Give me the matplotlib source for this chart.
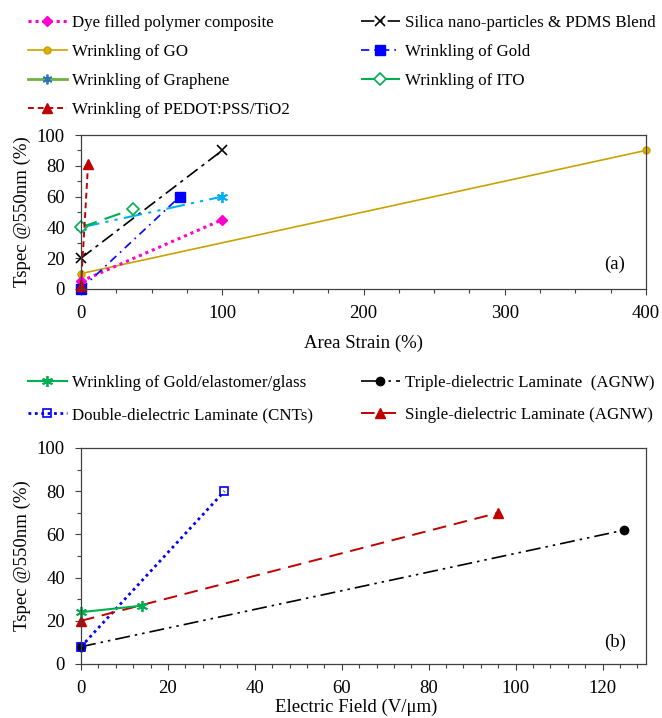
import matplotlib
matplotlib.use("Agg")
import matplotlib.pyplot as plt
from matplotlib.lines import Line2D
from matplotlib.ticker import MultipleLocator

plt.rcParams['font.family'] = ['Liberation Serif', 'DejaVu Serif']

# ---- data, panel (a): Tspec vs area strain ----
dye_x, dye_y = [0, 100], [5, 45]
silica_x, silica_y = [0, 100], [20, 90]
go_x, go_y = [0, 400], [10, 90]
gold_x, gold_y = [0, 70], [0, 60]
graphene_x, graphene_y = [0, 100], [40, 60]
ito_x, ito_y = [0, 37], [40, 52]
pedot_x, pedot_y = [0, 5], [2, 81]

# ---- data, panel (b): Tspec vs electric field ----
gold_el_x, gold_el_y = [0, 14], [24, 27]
triple_x, triple_y = [0, 125], [8, 62]
double_x, double_y = [0, 33], [8, 80]
single_x, single_y = [0, 96], [20, 70]

W, H = 662, 718
fig = plt.figure(figsize=(W / 100, H / 100), dpi=100)

ax1 = fig.add_axes([81 / W, 1 - 289 / H, 565 / W, 154 / H])
ax2 = fig.add_axes([81 / W, 1 - 664 / H, 565 / W, 216 / H])

PINK = '#FF00CC'
GOLDC = '#C9A100'
BLUE = '#0000FF'
CYAN = '#00B0F0'
GREEN = '#00B050'
RED = '#C00000'
ast = (6, 2, 0)

# panel (a)
ax1.plot(go_x, go_y, color=GOLDC, lw=1.2, marker='o', ms=5,
         mfc='#E0B000', mec=GOLDC, label='Wrinkling of GO')
ax1.plot(dye_x, dye_y, color=PINK, lw=2.2, ls=(0, (1, 1.3)), marker='D', ms=5,
         mfc=PINK, mec=PINK, label='Dye filled polymer composite')
ax1.plot(gold_x, gold_y, color=BLUE, lw=1.2, ls=(0, (5, 3, 1, 3)), marker='s', ms=7,
         mfc=BLUE, mec=BLUE, label='Wrinkling of Gold')
ax1.plot(silica_x, silica_y, color='black', lw=1.2, ls=(0, (8, 3, 2, 3)), marker='x', ms=7,
         mew=1.2, label='Silica nano-particles & PDMS Blend')
ax1.plot(graphene_x, graphene_y, color=CYAN, lw=1.5, ls=(0, (9, 3, 1.5, 3, 1.5, 3)),
         marker=ast, ms=8, mew=1.3, mec=CYAN)
ax1.plot(ito_x, ito_y, color=GREEN, lw=1.5, ls=(0, (8, 4)), marker='D', ms=6,
         mfc='white', mec=GREEN, mew=1.2, label='Wrinkling of ITO')
ax1.plot(pedot_x, pedot_y, color=RED, lw=1.4, ls=(0, (3, 2)), marker='^', ms=7,
         mfc=RED, mec=RED, label='Wrinkling of PEDOT:PSS/TiO2')

ax1.set_xlim(0, 400)
ax1.set_ylim(0, 100)
ax1.xaxis.set_major_locator(MultipleLocator(100))
ax1.xaxis.set_minor_locator(MultipleLocator(25))
ax1.set_xlabel('Area Strain (%)', fontsize=13.5)
ax1.xaxis.set_label_coords(0.5, -0.295)
ax1.text(0.945, 0.16, '(a)', transform=ax1.transAxes, fontsize=13.5, ha='center', va='center')

# panel (b)
ax2.plot(triple_x, triple_y, color='black', lw=1.2, ls=(0, (9, 3, 1.5, 3, 1.5, 3)),
         marker='o', ms=6, label='Triple-dielectric Laminate  (AGNW)')
ax2.plot(double_x, double_y, color=BLUE, lw=2, ls=(0, (1, 1.3)), marker='s', ms=6,
         mfc='none', mec=BLUE, mew=1.2, label='Double-dielectric Laminate (CNTs)')
ax2.plot(single_x, single_y, color=RED, lw=1.4, ls=(0, (7, 4)), marker='^', ms=7,
         mfc=RED, mec=RED, label='Single-dielectric Laminate (AGNW)')
ax2.plot(gold_el_x, gold_el_y, color=GREEN, lw=1.5, marker=ast, ms=8, mew=1.3,
         mec=GREEN, label='Wrinkling of Gold/elastomer/glass')

ax2.set_xlim(0, 130)
ax2.set_ylim(0, 100)
ax2.xaxis.set_major_locator(MultipleLocator(20))
ax2.xaxis.set_minor_locator(MultipleLocator(4))
ax2.set_xlabel('Electric Field (V/\u03bcm)', fontsize=13.5)
ax2.xaxis.set_label_coords(0.487, -0.162)
ax2.text(0.945, 0.1, '(b)', transform=ax2.transAxes, fontsize=13.5, ha='center', va='center')

for ax in (ax1, ax2):
    ax.yaxis.set_major_locator(MultipleLocator(20))
    ax.yaxis.set_minor_locator(MultipleLocator(10))
    ax.tick_params(which='both', direction='out', labelsize=13.5, color='#404040')
    ax.tick_params(which='major', length=4.5, width=0.8)
    ax.tick_params(which='minor', length=3, width=0.8)
    ax.tick_params(axis='x', which='major', pad=7)
    ax.tick_params(axis='y', which='major', pad=7)
    for s in ax.spines.values():
        s.set_color('#404040')
        s.set_linewidth(0.9)
    ax.set_ylabel('Tspec @550nm (%)', fontsize=13.5)
    ax.yaxis.set_label_coords(-0.088, 0.5)
    for m in ax.get_lines():
        m.set_clip_on(False)

# legends (two columns, placed as in the reference)
h = {l.get_label(): l for l in ax1.get_lines()}
graphene_handle = Line2D([], [], color='#6DB33F', lw=2, marker=ast, ms=7, mew=1.3,
                         mec='#2E75B6')
leg_kw = dict(frameon=False, fontsize=12.2, handlelength=2.3, handletextpad=0.3,
              labelspacing=0.76, borderpad=0, borderaxespad=0, loc='upper left')
fig.legend([h['Dye filled polymer composite'], h['Wrinkling of GO'], graphene_handle,
            h['Wrinkling of PEDOT:PSS/TiO2']],
           ['Dye filled polymer composite', 'Wrinkling of GO', 'Wrinkling of Graphene',
            'Wrinkling of PEDOT:PSS/TiO2'],
           bbox_to_anchor=(28 / W, 1 - 15 / H), **leg_kw)
fig.legend([h['Silica nano-particles & PDMS Blend'], h['Wrinkling of Gold'],
            h['Wrinkling of ITO']],
           ['Silica nano-particles & PDMS Blend', 'Wrinkling of Gold', 'Wrinkling of ITO'],
           bbox_to_anchor=(361 / W, 1 - 15 / H), **leg_kw)

h2 = {l.get_label(): l for l in ax2.get_lines()}
fig.legend([h2['Wrinkling of Gold/elastomer/glass'], h2['Double-dielectric Laminate (CNTs)']],
           ['Wrinkling of Gold/elastomer/glass', 'Double-dielectric Laminate (CNTs)'],
           bbox_to_anchor=(28 / W, 1 - 375 / H), **dict(leg_kw, labelspacing=0.95))
fig.legend([h2['Triple-dielectric Laminate  (AGNW)'], h2['Single-dielectric Laminate (AGNW)']],
           ['Triple-dielectric Laminate  (AGNW)', 'Single-dielectric Laminate (AGNW)'],
           bbox_to_anchor=(361 / W, 1 - 375 / H), **dict(leg_kw, labelspacing=0.95))

fig.savefig('out.png', dpi=100)
